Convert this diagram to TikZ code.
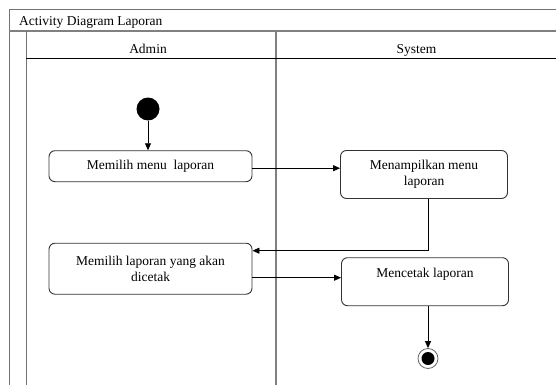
\documentclass[tikz,border=0pt]{standalone}
\usepackage{fontspec}
\setmainfont{Liberation Serif}
\usetikzlibrary{arrows.meta}
\begin{document}
\begin{tikzpicture}[x=1pt,y=-1pt,
  frame/.style={draw=black!55,line width=0.8pt},
  thickframe/.style={draw=black!50,line width=1.6pt},
  act/.style={draw=black!80,line width=0.9pt,rounded corners=6pt,font=\fontsize{13.5}{16}\selectfont,align=center,inner sep=2pt},
  arr/.style={draw=black,line width=0.9pt,-{Triangle[length=7pt,width=6pt]}},
  lbl/.style={font=\fontsize{13.5}{16}\selectfont,inner sep=0pt}]
\useasboundingbox (0,0) rectangle (556,385);
% frame
\draw[frame] (556,9) -- (9,9) -- (9,385);
\draw[thickframe] (9,31) -- (556,31);
\draw[frame] (26,31) -- (26,385);
\draw[thickframe] (276,31) -- (276,385);
\draw[draw=black,line width=1pt] (26,58.5) -- (556,58.5);
% labels
\node[lbl,anchor=base west] (title) at (19,26) {Activity Diagram Laporan};
\node[lbl,anchor=base] (admin) at (148,54) {Admin};
\node[lbl,anchor=base] (system) at (416.5,54) {System};
% nodes
\node[circle,fill=black,minimum size=23pt,inner sep=0pt] (init) at (148,109) {};
\node[act,minimum width=203pt,minimum height=31pt] (b1) at (150.5,166.2) {Memilih menu\ \ laporan};
\node[act,minimum width=167pt,minimum height=48pt] (b3) at (424,174.5) {Menampilkan menu\\laporan};
\node[act,minimum width=203pt,minimum height=51pt] (b2) at (150.5,268.7) {Memilih laporan yang akan\\dicetak};
\node[act,minimum width=167pt,minimum height=48pt,
  label={[lbl,anchor=north,yshift=-11pt]north:Mencetak laporan}] (b4) at (425,281.7) {};
\node[circle,draw=black!60,line width=0.8pt,minimum size=20pt,inner sep=0pt] (fin) at (428,358.5) {};
\node[circle,fill=black,minimum size=13pt,inner sep=0pt] (finin) at (fin) {};
% connectors
\draw[arr] (init) -- (init |- b1.north);
\coordinate (c1) at ([yshift=-2pt]b1.east);
\draw[arr] (c1) -- (c1 -| b3.west);
\coordinate (c2) at ([xshift=4pt]b3.south);
\coordinate (c3) at ([yshift=18pt]b2.east);
\draw[arr] (c2) -- (c2 |- c3) -- (c3);
\coordinate (c4) at ([yshift=-9pt]b2.east);
\draw[arr] (c4) -- (c4 -| b4.west);
\draw[arr] (fin |- b4.south) -- (fin.north);
\end{tikzpicture}
\end{document}
